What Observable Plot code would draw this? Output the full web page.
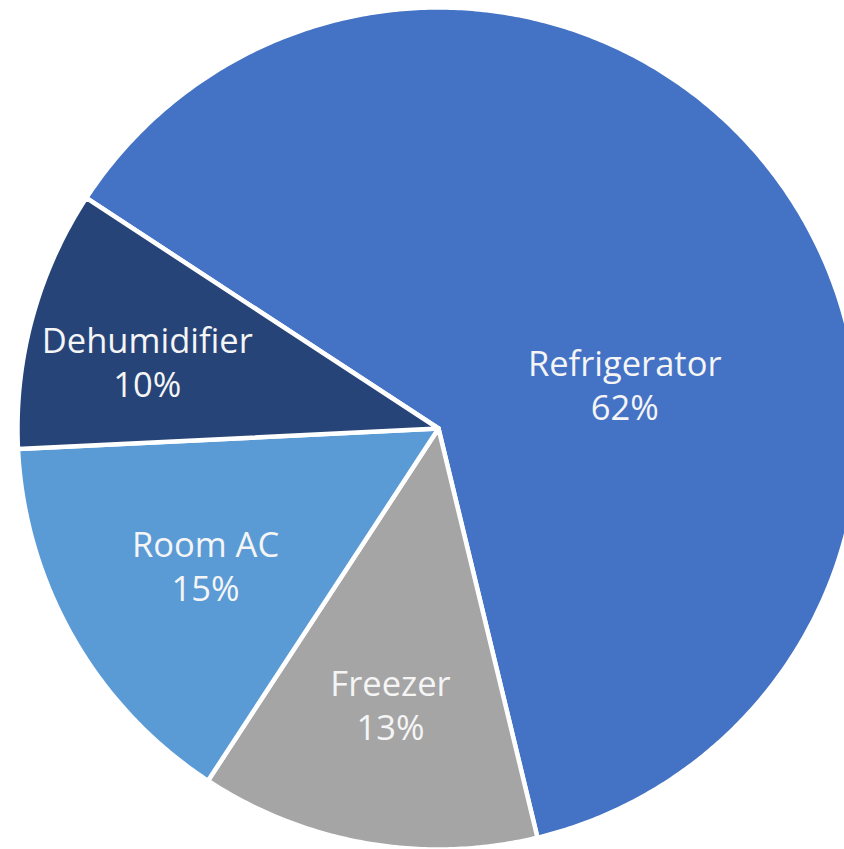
<!DOCTYPE html>
<html>
<head>
<meta charset="utf-8">
<script src="https://cdn.jsdelivr.net/npm/d3@7"></script>
<script src="https://cdn.jsdelivr.net/npm/@observablehq/plot@0.6"></script>
<style>
  html, body { margin: 0; padding: 0; background: #fff; }
  #chart svg { display: block; }
</style>
</head>
<body>
<div id="chart"></div>
<script>
// ---- data ----
const categories = ["Refrigerator", "Freezer", "Room AC", "Dehumidifier"];
const shares = [62, 13, 15, 10];
const colors = ["#4472C4", "#A5A5A5", "#5B9BD5", "#264478"];

// ---- layout config ----
const W = 844, H = 849;
const cx = 438, cy = 428, R = 421;
const startAngle = -56.8; // degrees, clockwise from 12 o'clock
// label placement (polar: angle in degrees clockwise from top, radius as fraction of R)
const labelAngle = [76.4, 189.9, 239.7, 283];
const labelRadius = [0.455, 0.663, 0.641, 0.71];

const total = d3.sum(shares);
const rad = d => d * Math.PI / 180;

// build slice outlines (in unit-circle coordinates, via scales)
const pts = [];
let a0 = startAngle;
categories.forEach((name, i) => {
  const sweep = shares[i] / total * 360;
  const a1 = a0 + sweep;
  pts.push({name, x: 0, y: 0});
  const n = Math.max(2, Math.ceil(sweep / 0.5));
  for (let k = 0; k <= n; k++) {
    const a = rad(a0 + sweep * k / n);
    pts.push({name, x: Math.sin(a), y: Math.cos(a)});
  }
  pts.push({name, x: 0, y: 0});
  a0 = a1;
});

const labels = categories.map((name, i) => ({
  name,
  text: `${name}\n${shares[i]}%`,
  x: labelRadius[i] * Math.sin(rad(labelAngle[i])),
  y: labelRadius[i] * Math.cos(rad(labelAngle[i]))
}));

const chart = Plot.plot({
  width: W,
  height: H,
  margin: 0,
  x: {domain: [-1, 1], range: [cx - R, cx + R], axis: null},
  y: {domain: [-1, 1], range: [cy + R, cy - R], axis: null},
  color: {domain: categories, range: colors},
  style: {fontFamily: "'Open Sans', 'Noto Sans', sans-serif", background: "#fff"},
  marks: [
    Plot.line(pts, {
      x: "x", y: "y", z: "name",
      fill: "name",
      stroke: "white",
      strokeWidth: 4.5,
      strokeLinejoin: "round",
      curve: "linear"
    }),
    Plot.text(labels, {
      x: "x", y: "y",
      text: "text",
      fill: "#F5F5F5",
      fontSize: 34.5,
      lineHeight: 1.28,
      textAnchor: "middle"
    })
  ]
});

document.getElementById("chart").appendChild(chart);
</script>
</body>
</html>
